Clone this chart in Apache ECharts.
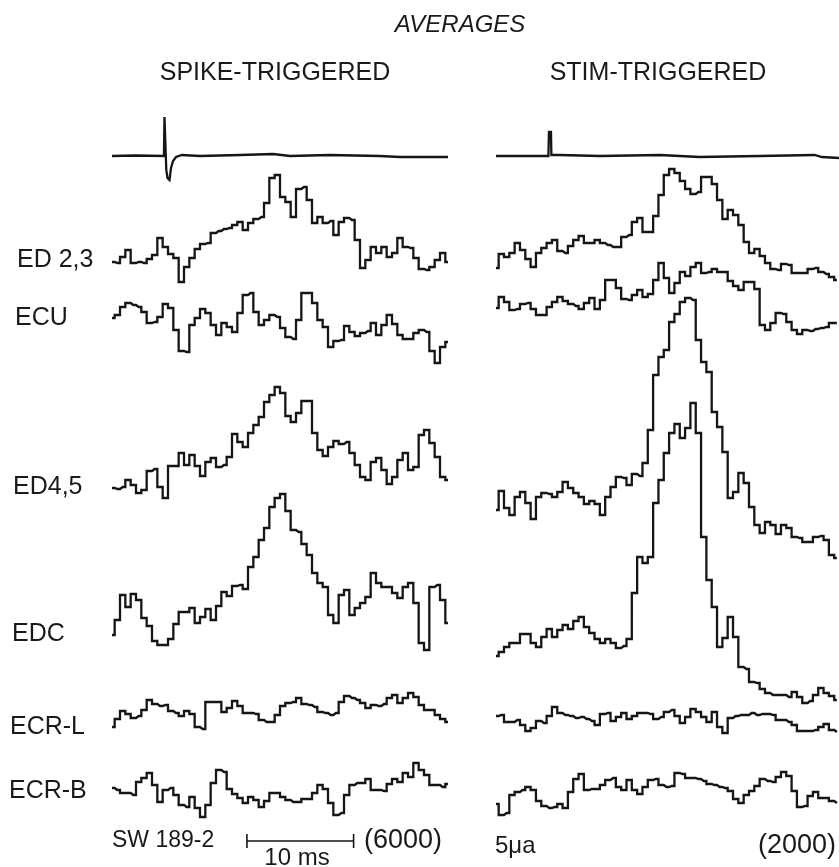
<!DOCTYPE html>
<html><head><meta charset="utf-8">
<script src="https://cdn.jsdelivr.net/npm/echarts@6/dist/echarts.min.js"></script>
<style>html,body{margin:0;padding:0;background:#fff}#c{width:839px;height:867px}</style>
</head><body><div id="c"></div><script>
// ---- data (amplitudes, arbitrary units; time in ms) ----
const BIN_MS = 0.5;
const muscles = ['ED 2,3', 'ECU', 'ED4,5', 'EDC', 'ECR-L', 'ECR-B'];

// trigger traces [ms, amplitude]
const spikeTrace = [[0,0],[2.2,0.5],[4.87,0],[4.92,39],[5.04,39],[5.09,-14],[5.2,-22],[5.39,-24],[5.53,-12],[5.72,-5],[6.0,-1],[6.56,1],[8.25,0],[12,1],[15.1,2],[16.7,0],[20.4,1],[25.1,0],[27,-1],[31.5,-1]];
const stimTrace = [[0,0],[4.92,0],[4.97,24],[5.16,24],[5.2,1],[6,1],[9.75,0],[15.4,1],[19.1,-1],[24.75,0],[29.9,1],[30.6,-1],[32.2,-2]];

// spike-triggered averages (one value per 0.5 ms bin)
const ed23Spike = [-2,-3,3,10,-3,-2,-3,1,5,22,13,6,2,-22,-7,2,11,16,17,27,29,31,32,35,38,30,37,41,43,57,82,85,63,58,43,71,73,60,37,43,37,39,25,38,42,40,20,-8,0,13,7,13,3,7,22,13,12,2,-9,-10,-7,0,7,-2];
const ecuSpike = [0,3,11,15,13,11,6,-5,-4,1,14,10,-12,-33,-34,-7,0,9,5,-7,-17,-5,-9,-14,5,23,25,6,-7,-2,3,1,-10,-19,-21,-2,25,25,15,-2,-9,-29,-23,-22,-8,-14,-18,-15,-13,-5,-17,-7,3,-6,-17,-21,-21,-15,-12,-14,-33,-45,-29,-24];
const ed45Spike = [0,-1,1,8,3,-5,-2,17,19,1,-10,22,22,35,23,33,22,12,26,30,21,23,31,54,46,41,55,63,71,86,93,101,95,72,66,75,87,87,55,38,32,41,47,44,46,35,23,11,8,26,30,18,4,11,28,35,18,21,53,58,45,31,11,8];
const edcSpike = [-3,12,37,25,38,32,14,6,-9,-13,-13,-7,8,20,20,24,9,15,23,12,26,40,36,46,47,43,65,75,92,104,125,134,138,121,102,100,88,77,59,49,45,17,9,37,42,17,24,29,35,59,49,45,45,39,34,45,49,29,-11,-18,45,47,32,9];
const ecrlSpike = [-7,1,9,6,2,4,10,20,16,14,15,9,7,4,9,6,-7,-9,18,18,18,8,12,19,14,7,7,6,0,-2,-2,5,14,17,18,22,16,15,13,8,7,5,7,18,24,22,20,17,12,15,14,16,22,25,17,22,27,23,15,10,10,5,1,-2];
const ecrbSpike = [2,0,-3,-3,-5,8,12,17,5,-12,0,2,-5,-15,-17,-7,-18,-27,-15,7,20,18,1,-4,-8,-13,-7,-10,-17,-11,-3,-3,-7,-10,-12,-12,-9,-9,-3,5,1,-13,-25,-23,-5,5,7,7,11,0,0,-1,6,11,8,17,13,27,20,15,5,5,3,6];

// stimulus-triggered averages
const ed23Stim = [-8,6,3,7,17,10,1,-7,7,12,17,20,9,7,14,20,24,17,17,20,17,15,13,13,23,25,38,42,28,28,44,65,85,91,87,79,71,66,68,83,83,76,60,41,50,45,35,18,7,11,4,-3,-9,-10,-4,-5,-13,-13,-13,-9,-8,-12,-14,-17,-20];
const ecuStim = [10,21,16,8,9,14,15,9,3,3,11,16,21,17,14,12,9,15,20,9,18,38,38,30,19,18,23,28,21,24,38,55,40,25,35,46,42,51,55,45,46,49,46,46,37,32,28,36,36,29,-7,-12,-5,5,4,-4,-12,-16,-12,-13,-11,-10,-9,-5,-5];
const ed45Stim = [-22,-3,-20,-27,-9,-4,-15,-31,-9,-5,-6,-9,-4,6,0,-5,-9,-16,-13,-16,-27,-9,1,11,10,3,14,12,25,58,113,131,138,166,174,186,190,188,148,126,116,76,61,36,-10,-4,15,5,-19,-37,-45,-34,-37,-46,-37,-40,-49,-50,-54,-54,-49,-48,-52,-67,-70];
const edcStim = [-24,-20,-15,-11,-11,-2,-2,-11,-15,-5,3,-5,2,7,3,11,15,5,-1,-7,-11,-7,-11,-16,-14,-7,39,75,69,75,129,152,179,199,208,194,204,229,199,95,52,25,-15,-6,15,-5,-35,-37,-50,-51,-57,-61,-63,-63,-63,-65,-60,-65,-71,-69,-63,-56,-61,-64,-68];
const ecrlStim = [4,5,-2,-2,0,-5,-11,-8,-1,-3,4,13,7,5,4,2,3,1,-1,-5,6,7,-1,3,7,1,4,7,7,6,1,3,8,10,4,-3,3,11,8,3,-2,8,-7,-13,2,4,5,5,7,5,6,6,5,0,0,-2,-5,-11,-11,-11,-10,-7,-4,-10,-12];
const ecrbStim = [-14,-25,-23,-5,-2,0,3,0,-11,-16,-18,-17,-14,-18,-2,11,16,0,1,1,5,10,12,3,0,10,0,-4,3,10,11,5,3,4,17,16,12,12,11,9,6,5,3,2,-1,-9,-13,-5,-1,4,11,9,8,13,18,14,-1,-17,-16,-6,-2,-8,-8,-11,-13];

const scaleBarMs = 10;

// ---- layout ----
const rowBase = [156, 260, 318, 488, 632, 720, 790];
const panels = [
  {left: 112, width: 336, max: 31.5},
  {left: 496, width: 343, max: 32.2}
];
const FONT = '"Liberation Sans", Arial, sans-serif';
const INK = '#151515';

const grid = [], xAxis = [], yAxis = [], series = [];
function addTrace(p, base, up, down, data, step, lw) {
  const g = grid.length;
  grid.push({left: p.left, width: p.width, top: base - up, height: up + down,
    outerBoundsMode: 'none', containLabel: false});
  xAxis.push({type: 'value', gridIndex: g, min: 0, max: p.max, show: false});
  yAxis.push({type: 'value', gridIndex: g, min: -down, max: up, show: false});
  series.push({
    type: 'line', xAxisIndex: g, yAxisIndex: g, data: data,
    step: step ? 'middle' : false, showSymbol: false, symbol: 'none',
    lineStyle: {color: INK, width: lw || 2.3, join: 'miter'}, clip: false,
    animation: false, silent: true
  });
}
const binned = arr => arr.map((v, i) => [i * BIN_MS, v]);

addTrace(panels[0], rowBase[0], 150, 70, spikeTrace, false, 2.3);
addTrace(panels[1], rowBase[0], 150, 70, stimTrace, false, 2.3);
const spikeRows = [ed23Spike, ecuSpike, ed45Spike, edcSpike, ecrlSpike, ecrbSpike];
const stimRows = [ed23Stim, ecuStim, ed45Stim, edcStim, ecrlStim, ecrbStim];
spikeRows.forEach((arr, k) => addTrace(panels[0], rowBase[k + 1], 240, 72, binned(arr), true));
stimRows.forEach((arr, k) => addTrace(panels[1], rowBase[k + 1], 240, 72, binned(arr), true));

// scale bar (10 ms) on the spike-triggered time scale
const sb0 = 12.65;
addTrace(panels[0], 841, 20, 20,
  [[sb0, 7], [sb0, -7], [sb0, 0], [sb0 + scaleBarMs, 0], [sb0 + scaleBarMs, 7], [sb0 + scaleBarMs, -7]],
  false, 1.6);

function txt(x, y, s, opts) {
  return {type: 'text', x: x, y: y, silent: true,
    style: Object.assign({text: s, fill: '#1a1a1a', font: '25px ' + FONT,
      textAlign: 'left', textVerticalAlign: 'middle'}, opts || {})};
}
const labelPos = [[17, 260], [15, 318], [13, 487], [12, 634], [10, 727], [9, 791]];
const graphic = [
  txt(460, 25, 'AVERAGES', {textAlign: 'center', font: 'italic 24px ' + FONT}),
  txt(275, 73, 'SPIKE-TRIGGERED', {textAlign: 'center'}),
  txt(658, 73, 'STIM-TRIGGERED', {textAlign: 'center'}),
  txt(112, 841, 'SW 189-2', {font: '23px ' + FONT}),
  txt(297, 858, '10 ms', {textAlign: 'center', font: '24px ' + FONT}),
  txt(364, 841, '(6000)', {font: '27px ' + FONT}),
  txt(495, 846, '5\u03bca', {font: '24px ' + FONT}),
  txt(836, 846, '(2000)', {textAlign: 'right', font: '27px ' + FONT})
];
muscles.forEach((m, k) => graphic.push(txt(labelPos[k][0], labelPos[k][1], m)));

const chart = echarts.init(document.getElementById('c'), null, {renderer: 'canvas'});
chart.setOption({
  backgroundColor: '#fff', animation: false,
  grid: grid, xAxis: xAxis, yAxis: yAxis, series: series, graphic: graphic
});
</script></body></html>
